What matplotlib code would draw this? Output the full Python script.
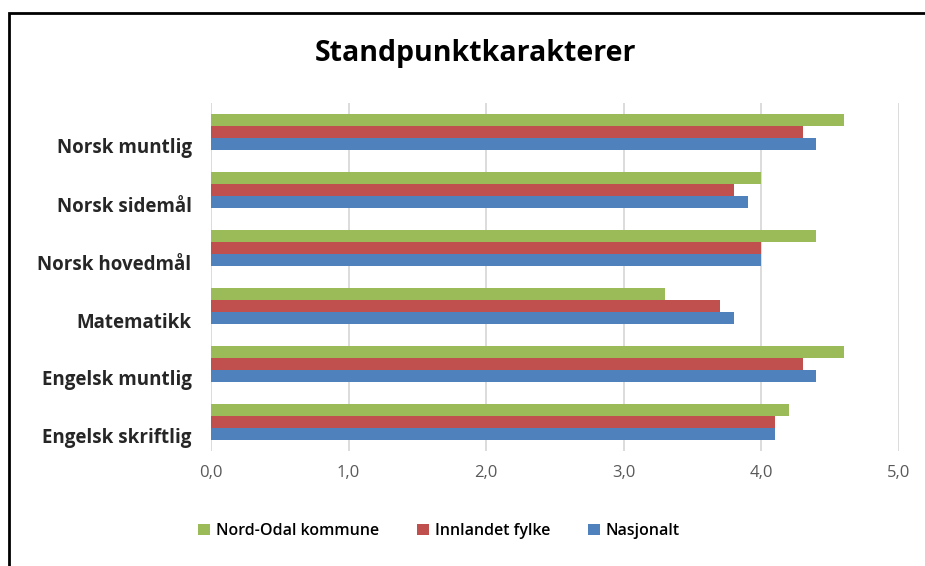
import numpy as np
import matplotlib.pyplot as plt
from matplotlib.patches import Rectangle
from matplotlib.transforms import ScaledTranslation

categories = ["Engelsk skriftlig", "Engelsk muntlig", "Matematikk",
              "Norsk hovedmål", "Norsk sidemål", "Norsk muntlig"]
nord_odal = [4.2, 4.6, 3.3, 4.4, 4.0, 4.6]
innlandet = [4.1, 4.3, 3.7, 4.0, 3.8, 4.3]
nasjonalt = [4.1, 4.4, 3.8, 4.0, 3.9, 4.4]
series_names = ["Nord-Odal kommune", "Innlandet fylke", "Nasjonalt"]
colors = ["#9BBB59", "#C0504D", "#4F81BD"]
xticks = [0, 1, 2, 3, 4, 5]

plt.rcParams['font.family'] = ['Open Sans', 'DejaVu Sans']

fig = plt.figure(figsize=(9.25, 5.66), dpi=100)
ax = fig.add_axes([211 / 925, 1 - 451 / 566, (899 - 211) / 925, (451 - 103) / 566])

# outer frame (left and top edges visible)
fig.patches.append(Rectangle((9 / 925, -0.1), 1.2, 1 - 13 / 566 + 0.1,
                             transform=fig.transFigure, fill=False,
                             edgecolor="black", linewidth=2))

y = np.arange(len(categories))
h = 0.207
for i, (vals, name, c) in enumerate(zip([nord_odal, innlandet, nasjonalt], series_names, colors)):
    ax.barh(y + (1 - i) * h, vals, height=h, color=c, label=name, zorder=3)

ax.set_xlim(0, 5)
ax.set_ylim(-0.5, len(categories) - 0.5)
ax.set_xticks(xticks)
ax.set_xticklabels([f"{v:.1f}".replace(".", ",") for v in xticks],
                   color="#595959", fontsize=12)
ax.set_yticks(y)
ax.set_yticklabels(categories, fontweight="bold", color="#262626", fontsize=13.5)
ax.tick_params(length=0)
ax.tick_params(axis="x", pad=10)
ax.tick_params(axis="y", pad=14)
# category labels sit a bit below the bar group centre in the original
shift = ScaledTranslation(0, -0.14, fig.dpi_scale_trans)
for lab in ax.get_yticklabels():
    lab.set_transform(lab.get_transform() + shift)
ax.grid(axis="x", color="#D9D9D9", linewidth=1.3, zorder=0)
for s in ax.spines.values():
    s.set_visible(False)

fig.text(475 / 925, 1 - 53 / 566, "Standpunktkarakterer", ha="center", va="center",
         fontsize=20.5, fontweight="bold", color="#000000")

handles, labels = ax.get_legend_handles_labels()
fig.legend(handles, labels, loc="center", bbox_to_anchor=(439 / 925, 1 - 531 / 566),
           ncol=3, frameon=False, handlelength=0.75, handleheight=0.75,
           handletextpad=0.35, columnspacing=2.4,
           prop={"weight": "semibold", "size": 11.5})

fig.savefig("out.png", dpi=100)
